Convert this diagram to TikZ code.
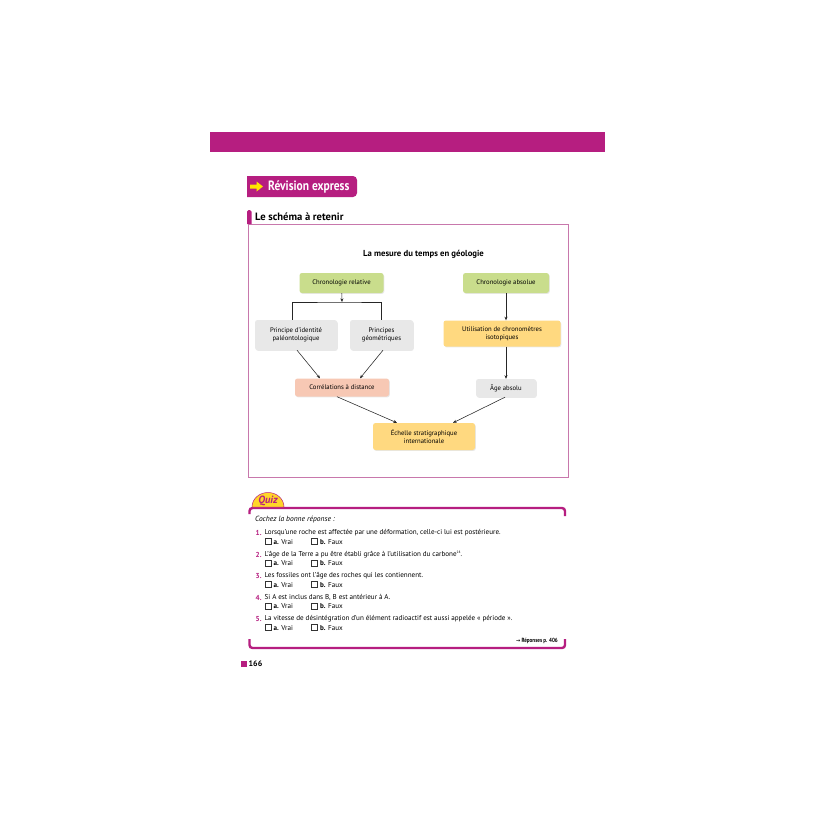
\documentclass[tikz,border=0pt]{standalone}
\usepackage{fontspec}
\setmainfont{PT Sans}
\newfontfamily\narrowfont[FakeStretch=0.85]{PT Sans}
\newfontfamily\arrowfont{DejaVu Sans}
\usetikzlibrary{arrows.meta,shadows}
\definecolor{mag}{RGB}{182,30,128}
\definecolor{framecol}{RGB}{200,120,172}
\definecolor{greenbox}{RGB}{201,221,140}
\definecolor{graybox}{RGB}{232,232,232}
\definecolor{yellowbox}{RGB}{255,217,128}
\definecolor{salmonbox}{RGB}{247,200,180}
\definecolor{arrowyellow}{RGB}{255,230,0}
\definecolor{quizyellow}{RGB}{255,214,40}
\begin{document}
\begin{tikzpicture}[x=1pt,y=-1pt,
	box/.style={rounded corners=2.5pt, inner sep=0pt, align=center, font=\fontsize{6.7}{8}\selectfont,
		drop shadow={opacity=0.18, shadow xshift=0.8pt, shadow yshift=-0.9pt}},
	link/.style={draw=black!85, line width=0.55pt, -{Stealth[length=3.6pt,width=3pt]}},
	qtext/.style={anchor=west, inner sep=0pt, font=\fontsize{7.1}{8.4}\selectfont},
	qnum/.style={anchor=west, inner sep=0pt, text=mag, font=\fontsize{7.2}{8.4}\selectfont\bfseries},
	tick/.style={draw=black!80, line width=0.4pt}]
	\fill[white] (0,0) rectangle (815,815);

	% head of the page
	\fill[mag] (210,132) rectangle (605,152);
	\fill[mag] (247,176) [rounded corners=4pt] -- (357,176) -- (357,197) [sharp corners] -- (247,197) -- cycle;
	\fill[arrowyellow] (250,184.5) -- (256.5,184.5) -- (256.5,181.5) -- (263,186.5) -- (256.5,191.5) -- (256.5,188.5) -- (250,188.5) -- cycle;
	\node[anchor=west, inner sep=0pt, text=white, font=\narrowfont\fontsize{13.5}{15}\selectfont\bfseries] (revision) at (268,186.5) {Révision express};

	\draw[framecol, line width=1pt] (248,224) rectangle (568,477);
	\fill[mag] (247,224) [rounded corners=1.5pt] -- (247,210) -- (251.5,210) [sharp corners] -- (251.5,224) -- cycle;
	\node[anchor=west, inner sep=0pt, font=\fontsize{10.6}{12}\selectfont\bfseries] (schema) at (255,217) {Le schéma à retenir};

	% the diagram
	\node[inner sep=0pt, font=\fontsize{8.7}{10}\selectfont\bfseries] (title) at (423.5,254) {La mesure du temps en géologie};

	\node[box, fill=greenbox, minimum width=84pt, minimum height=20pt] (crel) at (341.5,283) {Chronologie relative};
	\node[box, fill=greenbox, minimum width=86pt, minimum height=20pt] (cabs) at (506,283) {Chronologie absolue};
	\node[box, fill=graybox, minimum width=82pt, minimum height=30pt] (pid) at (296,335) {Principe d'identité\\paléontologique};
	\node[box, fill=graybox, minimum width=63pt, minimum height=30pt] (pgeo) at (381.5,335) {Principes\\géométriques};
	\node[box, fill=yellowbox, minimum width=117pt, minimum height=26pt] (util) at (502,333.5) {Utilisation de chronomètres\\isotopiques};
	\node[box, fill=salmonbox, minimum width=94pt, minimum height=18pt] (corr) at (342,387.5) {Corrélations à distance};
	\node[box, fill=graybox, minimum width=60pt, minimum height=18pt] (age) at (506,388) {Âge absolu};
	\node[box, fill=yellowbox, minimum width=102pt, minimum height=27pt] (ech) at (424,436.5) {Échelle stratigraphique\\internationale};

	\coordinate (split) at (342,302);
	\draw[link] (crel) -- (split);
	\draw[draw=black!85, line width=0.55pt] ([xshift=-4pt]pid.north) |- (split) -| (pgeo.north);
	\draw[link] ([xshift=1pt]pid.south) -- ([xshift=-22pt]corr.north);
	\draw[link] ([xshift=1.5pt]pgeo.south) -- ([xshift=18pt]corr.north);
	\draw[link] (cabs.south) -- (cabs.south |- util.north);
	\draw[link] (util.south -| age.north) -- (age.north);
	\draw[link] ([xshift=-5pt]corr.south) -- ([xshift=-27pt]ech.north);
	\draw[link] ([xshift=-1pt]age.south) -- ([xshift=29pt]ech.north);

	% quiz
	\draw[mag, line width=2.4pt, rounded corners=3pt] (249.5,514) -- (249.5,508) -- (565,508) -- (565,516);
	\filldraw[fill=quizyellow, draw=mag, line width=0.5pt] (284,507) arc[start angle=0, end angle=-180, x radius=16, y radius=14.5] -- cycle;
	\node[inner sep=0pt, text=mag, font=\fontsize{10.5}{12}\selectfont\bfseries\itshape] (quiz) at (268,501) {Quiz};
	\node[qtext, font=\fontsize{7.5}{8.6}\selectfont\itshape] (cochez) at (255,519.5) {Cochez la bonne réponse :};

	\node[qnum] (n1) at (255.5,533) {1.};
	\node[qtext] (q1) at (264.5,533) {Lorsqu'une roche est affectée par une déformation, celle-ci lui est postérieure.};
	\draw[tick] (265,538.5) rectangle (271,544.5);
	\node[qtext] (q1a) at (273.5,541.7) {\textbf{a.} Vrai};
	\draw[tick] (311.5,538.5) rectangle (317.5,544.5);
	\node[qtext] (q1b) at (320,541.7) {\textbf{b.} Faux};

	\node[qnum] (n2) at (255.5,554.5) {2.};
	\node[qtext] (q2) at (264.5,554.5) {L'âge de la Terre a pu être établi grâce à l'utilisation du carbone\raisebox{2.6pt}{\fontsize{3.6}{4}\selectfont 14}.};
	\draw[tick] (265,560) rectangle (271,566);
	\node[qtext] (q2a) at (273.5,563.2) {\textbf{a.} Vrai};
	\draw[tick] (311.5,560) rectangle (317.5,566);
	\node[qtext] (q2b) at (320,563.2) {\textbf{b.} Faux};

	\node[qnum] (n3) at (255.5,576) {3.};
	\node[qtext] (q3) at (264.5,576) {Les fossiles ont l'âge des roches qui les contiennent.};
	\draw[tick] (265,581.5) rectangle (271,587.5);
	\node[qtext] (q3a) at (273.5,584.7) {\textbf{a.} Vrai};
	\draw[tick] (311.5,581.5) rectangle (317.5,587.5);
	\node[qtext] (q3b) at (320,584.7) {\textbf{b.} Faux};

	\node[qnum] (n4) at (255.5,597.5) {4.};
	\node[qtext] (q4) at (264.5,597.5) {Si A est inclus dans B, B est antérieur à A.};
	\draw[tick] (265,603) rectangle (271,609);
	\node[qtext] (q4a) at (273.5,606.2) {\textbf{a.} Vrai};
	\draw[tick] (311.5,603) rectangle (317.5,609);
	\node[qtext] (q4b) at (320,606.2) {\textbf{b.} Faux};

	\node[qnum] (n5) at (255.5,619) {5.};
	\node[qtext] (q5) at (264.5,619) {La vitesse de désintégration d'un élément radioactif est aussi appelée « période ».};
	\draw[tick] (265,624.5) rectangle (271,630.5);
	\node[qtext] (q5a) at (273.5,627.7) {\textbf{a.} Vrai};
	\draw[tick] (311.5,624.5) rectangle (317.5,630.5);
	\node[qtext] (q5b) at (320,627.7) {\textbf{b.} Faux};

	\draw[mag, line width=2.4pt, rounded corners=3pt] (249.5,639) -- (249.5,648) -- (565,648) -- (565,639);
	\node[anchor=east, inner sep=0pt, font=\narrowfont\fontsize{6}{7}\selectfont\bfseries] (reponses) at (558,641) {{\arrowfont\fontsize{5}{6}\selectfont →} Réponses p. 406};

	% page number
	\fill[mag] (241,661) rectangle (246.5,667);
	\node[anchor=west, inner sep=0pt, font=\fontsize{8}{9}\selectfont\bfseries] (page) at (248.5,664) {166};
\end{tikzpicture}
\end{document}
